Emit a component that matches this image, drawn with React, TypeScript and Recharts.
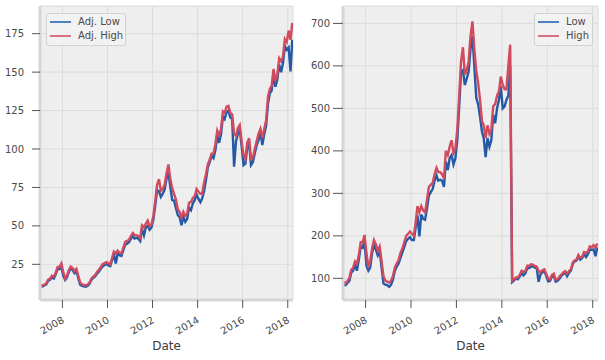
import { LineChart, Line, XAxis, YAxis, CartesianGrid, Label } from "recharts"

const FONT = "'DejaVu Sans', sans-serif"

// one point per month, mid-month, Jan 2007 .. Mar 2018
const dates = Array.from({ length: 135 }, (_, i) => Date.UTC(2007, i, 15))
const tickYears = [2008, 2010, 2012, 2014, 2016, 2018]

// split/dividend adjusted prices
const adjLow = [
  11.0, 10.6, 11.2, 12.0, 14.4, 14.9, 16.5, 15.8, 18.5, 22.0, 21.8, 23.8,
  17.5, 14.8, 16.4, 20.2, 22.4, 21.3, 19.3, 20.8, 15.8, 11.8, 11.0, 10.7,
  10.4, 11.0, 12.3, 14.8, 16.2, 17.1, 18.9, 20.4, 22.1, 23.7, 24.6, 25.2,
  24.3, 23.8, 27.6, 31.6, 25.5, 31.8, 31.0, 30.5, 34.2, 37.8, 38.4, 39.4,
  41.5, 43.5, 41.8, 42.2, 41.8, 40.2, 47.9, 43.8, 49.2, 50.0, 47.4, 48.9,
  54.3, 63.5, 73.2, 72.5, 68.9, 71.0, 73.5, 80.6, 84.5, 75.6, 66.8, 66.5,
  61.5, 56.8, 55.8, 50.4, 55.9, 52.6, 54.5, 61.8, 60.2, 64.6, 66.7, 70.5,
  67.5, 65.4, 67.8, 72.5, 79.4, 88.0, 91.5, 95.5, 94.0, 99.0, 109.0, 104.0,
  109.5, 121.0, 119.5, 124.0, 125.0, 120.5, 119.5, 88.5, 105.0, 110.0, 112.5, 102.0,
  89.5, 90.5, 101.0, 103.5, 89.5, 91.5, 97.0, 102.5, 106.0, 110.5, 102.5, 109.5,
  115.0, 129.5, 136.0, 138.0, 148.5, 140.5, 145.0, 155.0, 150.0, 155.5, 167.0, 164.5,
  166.0, 150.5, 171.0,
]
const adjHigh = [
  11.6, 11.1, 11.8, 12.6, 15.1, 15.7, 17.6, 17.0, 19.5, 23.3, 23.3, 25.6,
  20.1, 15.7, 17.6, 21.4, 23.6, 22.6, 20.7, 22.0, 17.6, 13.2, 11.9, 11.6,
  11.3, 11.9, 13.2, 15.7, 17.0, 18.0, 20.1, 21.4, 23.3, 25.1, 25.8, 26.4,
  25.8, 25.1, 28.9, 33.3, 32.1, 33.9, 32.7, 32.1, 35.8, 39.6, 40.2, 40.9,
  43.4, 45.3, 44.0, 44.0, 43.4, 42.1, 50.3, 49.0, 51.5, 53.5, 49.7, 50.9,
  56.6, 66.6, 76.7, 80.4, 72.9, 74.2, 76.7, 84.2, 90.0, 80.7, 74.5, 70.8,
  66.9, 60.4, 59.2, 55.3, 59.2, 56.6, 57.9, 65.0, 65.6, 68.2, 69.4, 74.0,
  72.2, 70.9, 70.9, 78.0, 83.2, 90.0, 93.0, 97.0, 97.0, 103.0, 112.0, 109.0,
  113.0, 124.5, 123.5, 127.5, 128.0, 123.5, 122.5, 110.0, 108.5, 113.5, 115.5, 105.0,
  96.0, 93.5, 104.0, 107.0, 93.5, 94.5, 100.0, 105.0, 110.0, 113.0, 107.0, 113.0,
  118.5, 134.0, 139.0, 141.0, 152.0, 145.0, 148.0, 159.0, 157.0, 160.0, 171.5, 169.5,
  177.0, 171.0, 182.0,
]

// raw prices (7:1 split in June 2014)
const low = [
  85, 84, 89, 94, 113, 118, 131, 118, 145, 175, 172, 190,
  130, 118, 125, 160, 178, 168, 154, 163, 125, 88, 85, 84,
  80, 85, 96, 117, 127, 135, 148, 161, 174, 188, 193, 197,
  190, 190, 218, 248, 199, 250, 240, 238, 265, 295, 303, 310,
  330, 342, 330, 332, 330, 315, 375, 355, 383, 390, 368, 382,
  425, 505, 585, 590, 555, 570, 587, 640, 670, 600, 525, 510,
  480, 445, 430, 385, 430, 410, 425, 485, 465, 500, 520, 552,
  500, 505, 520, 530, 600, 91, 95, 100, 98, 104, 113, 107,
  112, 125, 124, 128, 128, 125, 124, 92, 110, 114, 117, 106,
  93, 94, 104, 106, 92, 94, 99, 106, 110, 114, 105, 113,
  118, 134, 140, 142, 151, 144, 148, 157, 150, 157, 168, 167,
  168, 152, 173,
]
const high = [
  92, 88, 94, 100, 120, 125, 140, 135, 155, 185, 185, 202,
  160, 125, 140, 170, 190, 180, 165, 175, 140, 105, 95, 92,
  90, 95, 105, 125, 135, 143, 160, 170, 185, 200, 205, 210,
  205, 200, 230, 270, 255, 270, 260, 255, 285, 315, 320, 325,
  345, 360, 350, 350, 345, 335, 400, 390, 410, 425, 395, 405,
  450, 530, 610, 644, 580, 590, 610, 670, 705, 640, 590, 560,
  520, 470, 460, 430, 460, 440, 450, 505, 510, 530, 540, 575,
  555, 545, 545, 600, 650, 94, 98, 102, 102, 108, 118, 115,
  118, 130, 129, 133, 132, 129, 128, 117, 114, 119, 121, 110,
  100, 97, 108, 111, 97, 98, 104, 109, 114, 117, 111, 117,
  121, 137, 142, 144, 155, 148, 151, 162, 160, 163, 175, 173,
  178, 172, 182,
]

const BLUE = "#2459a6"
const RED = "#d14a5d"
const BLUE_LEGEND = "#4e80c2"
const RED_LEGEND = "#d9707f"
const TEXT = "#4a4a4a"

const rows = dates.map((t, i) => ({
  t,
  adjLow: adjLow[i],
  adjHigh: adjHigh[i],
  low: low[i],
  high: high[i],
}))

const xTicks = tickYears.map((y) => Date.UTC(y, 0, 1))
const xDomain = [Date.UTC(2007, 0, 3), Date.UTC(2018, 2, 27)]

function YearTick({ x, y, payload }: any) {
  const tx = x + 2.5
  const ty = y + 14
  return (
    <text x={tx} y={ty} textAnchor="end" fill={TEXT} fontSize={10} fontFamily={FONT} transform={`rotate(-30 ${tx} ${ty})`}>
      {new Date(payload.value).getUTCFullYear()}
    </text>
  )
}

function LegendBox({ left, width, labels }: { left: number; width: number; labels: string[] }) {
  const colors = [BLUE_LEGEND, RED_LEGEND]
  return (
    <div
      style={{
        position: "absolute",
        left,
        top: 13,
        width,
        height: 33,
        boxSizing: "border-box",
        border: "1px solid #d2d2d2",
        borderRadius: 3,
        background: "rgba(242,242,242,0.85)",
        fontFamily: FONT,
        fontSize: 10,
        color: TEXT,
      }}
    >
      {labels.map((label, i) => (
        <div key={label} style={{ position: "absolute", left: 3, top: 0.5 + i * 14.3, height: 14, display: "flex", alignItems: "center" }}>
          <svg width={21} height={4} style={{ display: "block" }}>
            <line x1={0} y1={2} x2={21} y2={2} stroke={colors[i]} strokeWidth={2} />
          </svg>
          <span style={{ marginLeft: 7, whiteSpace: "nowrap" }}>{label}</span>
        </div>
      ))}
    </div>
  )
}

function Panel({ left, width, yWidth, yTickSize, yTickMargin, domain, yTicks, lowKey, highKey, labels, legendLeft, legendWidth }: any) {
  return (
    <div style={{ position: "absolute", left, top: 0, width, height: 360 }}>
      <LineChart width={width} height={360} data={rows} margin={{ top: 6, right: 7, left: 0, bottom: 0 }}>
        <CartesianGrid fill="#eeeeee" stroke="#dcdcdc" strokeWidth={1} />
        <XAxis
          dataKey="t"
          type="number"
          domain={xDomain}
          allowDataOverflow
          ticks={xTicks}
          interval={0}
          height={60}
          tickSize={8}
          tickMargin={0}
          axisLine={{ stroke: "#d6d6d6", strokeWidth: 3 }}
          tickLine={{ stroke: "#555555" }}
          tick={<YearTick />}
        >
          <Label value="Date" position="insideBottom" offset={10} fill="#3a3a3a" fontSize={12} fontFamily={FONT} />
        </XAxis>
        <YAxis
          type="number"
          domain={domain}
          allowDataOverflow
          ticks={yTicks}
          interval={0}
          width={yWidth}
          tickSize={yTickSize}
          tickMargin={yTickMargin}
          axisLine={{ stroke: "#d6d6d6", strokeWidth: 3 }}
          tickLine={{ stroke: "#555555" }}
          tick={{ fill: TEXT, fontSize: 10, fontFamily: FONT }}
        />
        <Line dataKey={lowKey} type="linear" stroke={BLUE} strokeWidth={2.4} dot={false} isAnimationActive={false} />
        <Line dataKey={highKey} type="linear" stroke={RED} strokeWidth={2.4} dot={false} isAnimationActive={false} />
      </LineChart>
      <LegendBox left={legendLeft} width={legendWidth} labels={labels} />
    </div>
  )
}

export default function App() {
  return (
    <div style={{ position: "absolute", left: 0, top: 0, width: 605, height: 360, background: "#ffffff" }}>
      <Panel
        left={0}
        width={300}
        yWidth={40}
        yTickSize={8}
        yTickMargin={8}
        domain={[1.8, 193]}
        yTicks={[25, 50, 75, 100, 125, 150, 175]}
        lowKey="adjLow"
        highKey="adjHigh"
        labels={["Adj. Low", "Adj. High"]}
        legendLeft={46}
        legendWidth={80}
      />
      <Panel
        left={300}
        width={305}
        yWidth={43}
        yTickSize={10}
        yTickMargin={3}
        domain={[49, 741]}
        yTicks={[100, 200, 300, 400, 500, 600, 700]}
        lowKey="low"
        highKey="high"
        labels={["Low", "High"]}
        legendLeft={234}
        legendWidth={59}
      />
    </div>
  )
}
